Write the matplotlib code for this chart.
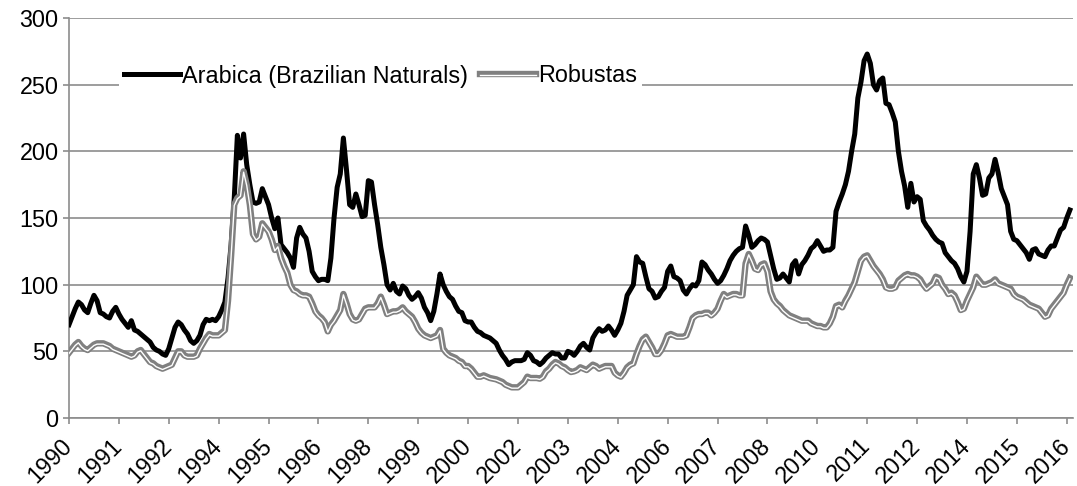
import numpy as np
import matplotlib
matplotlib.use("Agg")
import matplotlib.pyplot as plt
import matplotlib.patheffects as pe

plt.rcParams['font.family'] = ['Liberation Sans', 'DejaVu Sans']

# monthly prices (US cents/lb), Jan 1990 .. Oct 2016
arabica = [
    70, 76, 82, 87, 85, 81, 79, 86, 92, 88, 79, 78,            # 1990
    76, 75, 80, 83, 78, 74, 71, 68, 73, 66, 65, 63,            # 1991
    61, 59, 57, 53, 51, 50, 48, 47, 52, 60, 68, 72,            # 1992
    70, 66, 63, 58, 56, 58, 62, 70, 74, 73, 74, 73,            # 1993
    76, 81, 87, 105, 130, 165, 212, 195, 213, 190, 175, 162,   # 1994
    161, 162, 172, 166, 160, 150, 142, 150, 130, 127, 124, 120,  # 1995
    113, 135, 143, 138, 135, 125, 110, 106, 103, 104, 104, 103,  # 1996
    120, 150, 173, 183, 210, 186, 160, 158, 168, 160, 151, 152,  # 1997
    178, 177, 160, 145, 128, 115, 100, 96, 101, 95, 93, 99,    # 1998
    97, 92, 89, 91, 94, 90, 83, 79, 73, 80, 93, 108,           # 1999
    100, 95, 91, 89, 84, 80, 79, 73, 72, 72, 68, 65,           # 2000
    64, 62, 61, 60, 58, 56, 51, 47, 44, 40, 42, 43,            # 2001
    43, 43, 44, 49, 47, 43, 42, 40, 42, 45, 47, 49,            # 2002
    48, 48, 45, 45, 50, 49, 47, 50, 54, 56, 53, 51,            # 2003
    60, 64, 67, 65, 66, 69, 66, 62, 66, 71, 80, 92,            # 2004
    96, 100, 121, 117, 116, 106, 97, 95, 90, 91, 95, 98,       # 2005
    110, 114, 106, 105, 103, 96, 93, 97, 100, 99, 103, 117,    # 2006
    115, 111, 108, 104, 101, 103, 107, 112, 118, 122, 125, 127,  # 2007
    128, 144, 137, 128, 130, 133, 135, 134, 132, 122, 112, 104,  # 2008
    105, 108, 105, 102, 115, 118, 108, 115, 118, 122, 127, 129,  # 2009
    133, 129, 125, 126, 126, 128, 155, 162, 168, 175, 185, 200,  # 2010
    213, 240, 252, 268, 273, 266, 250, 246, 253, 255, 236, 235,  # 2011
    229, 222, 200, 185, 174, 158, 176, 162, 166, 164, 148, 144,  # 2012
    141, 137, 134, 132, 131, 124, 121, 118, 116, 112, 106, 102,  # 2013
    110, 140, 183, 190, 180, 167, 168, 180, 183, 194, 184, 172,  # 2014
    166, 160, 140, 134, 133, 130, 127, 124, 119, 126, 127, 123,  # 2015
    122, 121, 126, 129, 129, 135, 141, 143, 150, 156,            # 2016
]

robustas = [
    49, 52, 55, 57, 54, 52, 51, 53, 55, 56, 56, 56,            # 1990
    55, 54, 52, 51, 50, 49, 48, 47, 46, 47, 50, 51,            # 1991
    48, 45, 42, 41, 39, 38, 37, 38, 39, 40, 45, 50,            # 1992
    50, 47, 46, 46, 46, 47, 52, 56, 60, 63, 62, 62,            # 1993
    62, 64, 66, 88, 122, 160, 165, 167, 185, 175, 160, 138,    # 1994
    134, 136, 146, 143, 140, 134, 126, 129, 120, 114, 109, 100,  # 1995
    96, 95, 93, 92, 92, 91, 86, 80, 77, 75, 72, 65,            # 1996
    70, 73, 77, 81, 93, 86, 78, 74, 73, 74, 78, 82,            # 1997
    83, 83, 83, 86, 91, 85, 78, 79, 80, 80, 81, 83,            # 1998
    80, 78, 76, 72, 67, 64, 62, 61, 60, 61, 62, 66,            # 1999
    52, 49, 47, 46, 45, 43, 42, 39, 39, 37, 34, 31,            # 2000
    31, 32, 31, 30, 29.5, 29, 28, 27, 25, 24, 23, 23,          # 2001
    23, 25, 27, 31, 30, 30, 30, 29.5, 31, 35, 37, 40,          # 2002
    42, 41, 39, 38, 36, 34.5, 35, 36, 38, 37, 36, 38,          # 2003
    40, 39, 37, 38, 39, 39, 39, 34, 32, 31, 34, 38,            # 2004
    40, 41, 48, 54, 59, 61, 57, 53, 48, 48, 51, 56,            # 2005
    62, 63, 62, 61, 61, 61, 62, 68, 75, 77, 78, 78,            # 2006
    79, 79, 77, 79, 82, 88, 93, 91, 92, 93, 93, 92,            # 2007
    92, 116, 123, 118, 112, 111, 115, 116, 110, 95, 89, 86,    # 2008
    84, 81, 79, 77, 76, 75, 74, 73, 73, 73, 71, 70,            # 2009
    69, 69, 68, 68, 71, 76, 84, 85, 83, 88, 92, 97,            # 2010
    102, 110, 118, 121, 122, 118, 114, 111, 108, 104, 98, 97,  # 2011
    97, 98, 103, 105, 107, 108, 107, 107, 106, 104, 100, 97,   # 2012
    99, 101, 106, 105, 100, 97, 93, 94, 92, 87, 81, 82,        # 2013
    88, 93, 98, 106, 103, 100, 100, 101, 102, 104, 101, 100,   # 2014
    99, 98, 97, 93, 91, 90, 89, 87, 85, 84, 83, 82,            # 2015
    79, 76, 77, 82, 85, 88, 91, 94, 100, 105,                  # 2016
]

tick_labels = ['1990', '1991', '1992', '1994', '1995', '1996', '1998', '1999',
               '2000', '2002', '2003', '2004', '2006', '2007', '2008', '2010',
               '2011', '2012', '2014', '2015', '2016']

months = np.arange(len(arabica))
grey = '#8c8c8c'
fs = 16.8

fig = plt.figure(figsize=(10.77, 4.86), dpi=100)
ax = fig.add_axes([69 / 1077, 68 / 486, 1004 / 1077, 400 / 486])

ax.plot(months, arabica, color='black', lw=3.6, solid_joinstyle='round',
        label='Arabica (Brazilian Naturals)', zorder=3)
ax.plot(months, robustas, color='#808080', lw=4.6, solid_joinstyle='round',
        label='Robustas', zorder=4,
        path_effects=[pe.Normal(),
                      pe.Stroke(linewidth=1.0, foreground='white', offset=(0, -0.6))])

ax.set_ylim(0, 300)
ax.set_xlim(0, 322)
ax.set_yticks(range(0, 301, 50))
ax.set_xticks(np.arange(len(tick_labels)) * 16)
ax.set_xticklabels(tick_labels, rotation=45, ha='right', va='center',
                   rotation_mode='anchor')

ax.grid(axis='y', color=grey, lw=1.2)
ax.set_axisbelow(True)
for side in ['top', 'right']:
    ax.spines[side].set_visible(False)
for side in ['left', 'bottom']:
    ax.spines[side].set_color(grey)
    ax.spines[side].set_linewidth(1.2)
ax.tick_params(axis='both', colors=grey, width=1.2, length=4.5, labelsize=fs,
               labelcolor='black')
ax.tick_params(axis='x', pad=13)
ax.tick_params(axis='y', pad=3)

leg = ax.legend(loc='center', bbox_to_anchor=(0.31, 0.855), ncol=2, fontsize=fs,
                frameon=True, fancybox=False, handlelength=2.4, handletextpad=0.1,
                columnspacing=0.5, borderpad=0.2)
leg.get_frame().set_facecolor('white')
leg.get_frame().set_edgecolor('none')
leg.get_frame().set_alpha(1)

fig.savefig('out.png', dpi=100)
